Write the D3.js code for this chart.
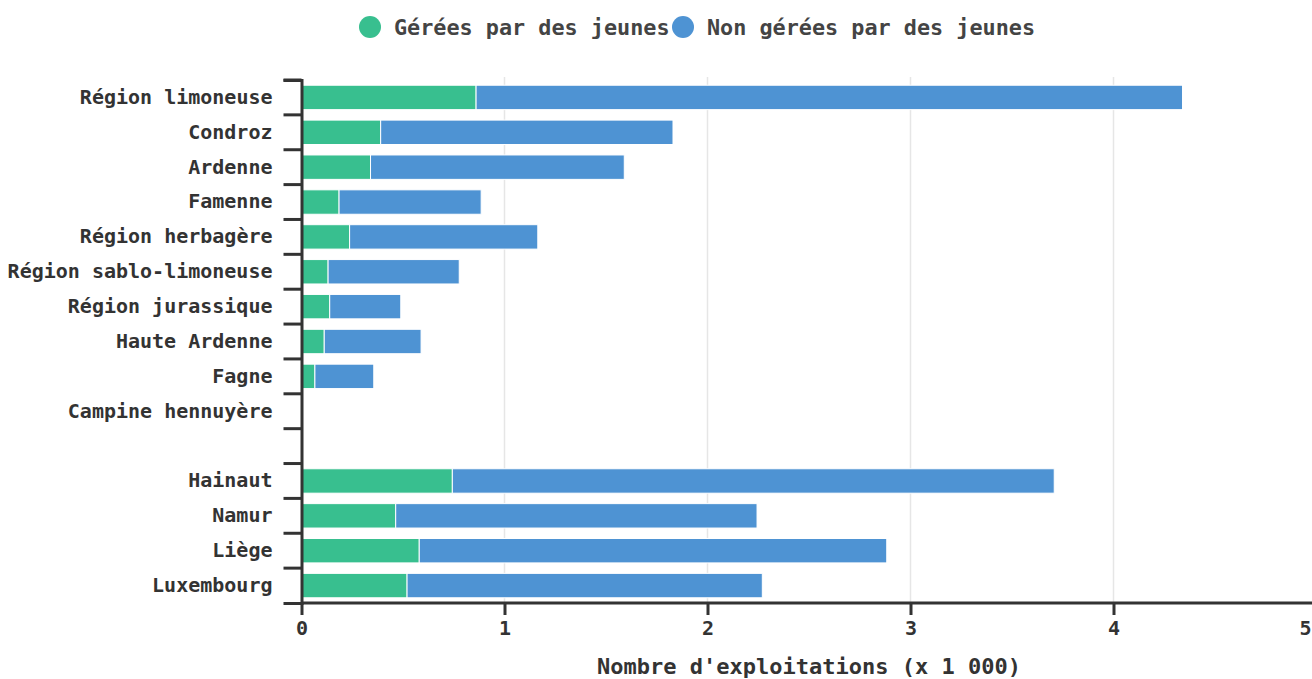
<!DOCTYPE html>
<html>
<head>
<meta charset="utf-8">
<script src="https://cdn.jsdelivr.net/npm/d3@7"></script>
<style>
  html, body { margin: 0; padding: 0; background: #fff; overflow: hidden; }
  svg { display: block; font-family: "DejaVu Sans Mono", monospace; }
</style>
</head>
<body>
<svg id="chart" width="1312" height="679"></svg>
<script>
// Agricultural regions (top block), a spacer row, then provinces (bottom block)
const categories = [
  "Région limoneuse", "Condroz", "Ardenne", "Famenne", "Région herbagère",
  "Région sablo-limoneuse", "Région jurassique", "Haute Ardenne", "Fagne",
  "Campine hennuyère", "", "Hainaut", "Namur", "Liège", "Luxembourg"
];
// Number of farms (x 1 000)
const youngManaged    = [0.86, 0.39, 0.34, 0.185, 0.237, 0.131, 0.139, 0.112, 0.066, 0, 0, 0.743, 0.464, 0.58, 0.52];
const notYoungManaged = [3.48, 1.44, 1.25, 0.70, 0.927, 0.646, 0.35, 0.477, 0.29, 0, 0, 2.965, 1.78, 2.303, 1.75];
const seriesNames = ["Gérées par des jeunes", "Non gérées par des jeunes"];
const seriesColors = ["#38bf8f", "#4e93d3"];
const xTicks = [0, 1, 2, 3, 4, 5];
const xTitle = "Nombre d'exploitations (x 1 000)";

const svg = d3.select("#chart");
const margin = { left: 301.5, top: 80 };
const plotW = 1015, plotH = 523;
const svgW = 1312;

const rows = categories.map((c, i) => ({ cat: c, young: youngManaged[i], other: notYoungManaged[i] }));
const stacked = d3.stack().keys(["young", "other"])(rows);

const x = d3.scaleLinear().domain([0, 5]).range([0, plotW]);
const y = d3.scaleBand().domain(categories).range([0, plotH]).paddingInner(0.3).paddingOuter(0.15);

const g = svg.append("g").attr("transform", `translate(${margin.left},${margin.top})`);

// vertical gridlines
g.append("g").selectAll("line").data(xTicks.filter(t => t > 0)).join("line")
  .attr("x1", d => x(d)).attr("x2", d => x(d))
  .attr("y1", -3).attr("y2", plotH)
  .attr("stroke", "#e6e6e6").attr("stroke-width", 1.5);

// stacked bars
g.append("g").selectAll("g").data(stacked).join("g")
  .attr("fill", (d, i) => seriesColors[i])
  .selectAll("rect").data(d => d).join("rect")
  .attr("x", d => x(d[0]))
  .attr("y", d => y(d.data.cat))
  .attr("width", d => x(d[1]) - x(d[0]))
  .attr("height", y.bandwidth())
  .attr("stroke", "#fff").attr("stroke-width", d => (d[1] - d[0]) > 0 ? 1 : 0);

// y axis: ticks sit on the row boundaries, labels in the rows
const yAxis = g.append("g").call(d3.axisLeft(y).tickSize(18).tickSizeOuter(18).tickPadding(11));
const half = y.step() / 2;
yAxis.selectAll(".tick line").attr("transform", `translate(0,${-half})`);
yAxis.selectAll("path, line").attr("stroke", "#333").attr("stroke-width", 3);
yAxis.selectAll("text").attr("font-family", "DejaVu Sans Mono, monospace")
  .attr("font-size", 20).attr("font-weight", "bold").attr("fill", "#333");

// x axis
const xAxis = g.append("g").attr("transform", `translate(0,${plotH})`)
  .call(d3.axisBottom(x).tickValues(xTicks).tickFormat(d3.format("d")).tickSize(12).tickSizeOuter(0).tickPadding(6));
xAxis.select(".domain").attr("d", `M0,0H${svgW}`);
xAxis.selectAll("path, line").attr("stroke", "#333").attr("stroke-width", 3);
xAxis.selectAll("text").attr("font-family", "DejaVu Sans Mono, monospace")
  .attr("font-size", 20).attr("font-weight", "bold").attr("fill", "#333");
// keep the last tick label inside the drawing area
xAxis.selectAll(".tick text")
  .filter(d => margin.left + x(d) + 6 > svgW)
  .attr("text-anchor", "end")
  .attr("x", d => svgW - margin.left - x(d) - 1);

// x axis title
svg.append("text")
  .attr("x", 809).attr("y", 666).attr("dy", "0.35em")
  .attr("text-anchor", "middle")
  .attr("font-size", 22).attr("font-weight", "bold").attr("fill", "#333")
  .text(xTitle);

// legend
const legendX = [370, 683];
const legend = svg.append("g").selectAll("g").data(seriesNames).join("g")
  .attr("transform", (d, i) => `translate(${legendX[i]},27)`);
legend.append("circle").attr("r", 11).attr("fill", (d, i) => seriesColors[i]);
legend.append("text").attr("x", 24).attr("dy", "0.35em")
  .attr("font-size", 21.8).attr("font-weight", "bold").attr("fill", "#444")
  .text(d => d);
</script>
</body>
</html>
